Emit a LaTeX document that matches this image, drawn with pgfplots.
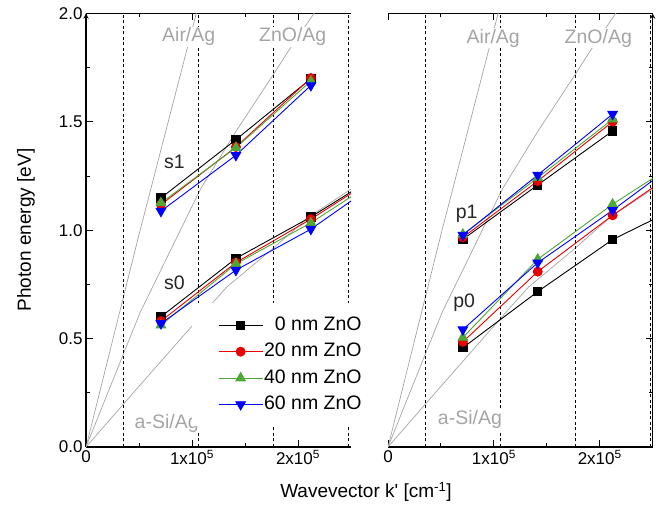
\documentclass[border=0pt]{standalone}
\usepackage{fontspec}
\setmainfont{Liberation Sans}
\usepackage{pgfplots}
\pgfplotsset{compat=1.18}

\definecolor{cgray}{RGB}{165,165,165}
\definecolor{cred}{RGB}{230,0,0}
\definecolor{cgreen}{RGB}{77,168,55}
\definecolor{cblue}{RGB}{0,0,255}

\tikzset{
  glabel/.style={fill=white, text=cgray, inner sep=1pt, font=\fontsize{19.5}{19.5}\selectfont},
  blabel/.style={text=black!85, inner sep=1pt, font=\fontsize{19.5}{19.5}\selectfont},
}

\pgfplotsset{
  panel/.style={
    scale only axis, width=265pt, height=433.5pt,
    xmin=0, xmax=2.5, ymin=0, ymax=2,
    axis x line=box,
    every outer x axis line/.append style={-},
    every outer y axis line/.append style={-},
    axis line style={line width=1.3pt, -},
    tick align=inside,
    xtick={0,1,2}, xticklabels={0, 1x10\textsuperscript{5}, 2x10\textsuperscript{5}},
    minor x tick num=1,
    ytick={0,0.5,...,2}, minor y tick num=1,
    major tick length=7pt, minor tick length=4pt,
    tick style={black, line width=1pt},
    tick label style={font=\fontsize{17}{17}\selectfont},
    /pgf/number format/assume math mode=true,
    yticklabel style={/pgf/number format/fixed, /pgf/number format/fixed zerofill, /pgf/number format/precision=1},
    clip=true,
  },
  gline/.style={cgray, line width=0.7pt, forget plot},
  dline/.style={black, line width=0.6pt, dash pattern=on 3pt off 2.5pt, forget plot},
  lbl/.style={draw=none, forget plot, mark=none},
  sK/.style={black, line width=0.9pt, mark=square*, mark size=4.2pt, mark options={solid, fill=black}},
  sR/.style={cred, line width=0.9pt, mark=*, mark size=4.5pt, mark options={solid, fill=cred}},
  sG/.style={cgreen, line width=0.9pt, mark=triangle*, mark size=5.5pt, mark options={solid, fill=cgreen}},
  sB/.style={cblue, line width=0.9pt, mark=triangle*, mark size=5.5pt, mark options={solid, fill=cblue, rotate=180}},
}

\newcommand{\guides}{%
  \addplot[gline] coordinates {(0,0) (0.5,0.98) (0.95,1.83) (1.04,2.0) (1.1,2.1)};
  \addplot[gline] coordinates {(0,0) (0.51,0.62) (1.08,1.19) (1.42,1.46) (1.77,1.72) (1.9,1.82) (2.15,2.0) (2.3,2.1)};
  \addplot[gline] coordinates {(0,0) (0.5,0.28) (1.12,0.625) (1.33,0.739) (1.75,0.91) (2.1,1.06) (2.5,1.19) (2.6,1.22)};
  \addplot[dline] coordinates {(0.3536,0) (0.3536,2)};
  \addplot[dline] coordinates {(1.0607,0) (1.0607,2)};
  \addplot[dline] coordinates {(1.7678,0) (1.7678,2)};
  \addplot[dline] coordinates {(2.4749,0) (2.4749,2)};
}

\begin{document}
\begin{tikzpicture}
\useasboundingbox (0pt,-61pt) rectangle (656pt,447pt);

\begin{axis}[panel, axis y line=left, tick align=inside,
  at={(86pt,0pt)}, anchor=south west,
  legend style={at={(0.4,0.332)}, anchor=north west, fill=white, draw=none,
    inner xsep=26pt, inner ysep=12pt, row sep=6.4pt,
    font=\fontsize{19.5}{19.5}\selectfont,
    nodes={inner sep=1pt, text height=14pt, text depth=4pt}},
  legend cell align=right,
  legend image code/.code={\draw[mark repeat=2,mark phase=2,#1] plot coordinates {(0pt,0pt) (22pt,0pt) (44pt,0pt)};},
]
\guides
\addplot[lbl] coordinates {(0.969,1.893)} node[glabel] {Air/Ag};
\addplot[lbl] coordinates {(1.95,1.893)} node[glabel] {ZnO/Ag};
\addplot[lbl] coordinates {(0.761,0.11)} node[glabel] {a-Si/Ag};
\addplot[lbl] coordinates {(0.833,1.316)} node[blabel] {s1};
\addplot[lbl] coordinates {(0.833,0.757)} node[blabel] {s0};
% s0
\addplot[sK] coordinates {(0.7071,0.601) (1.4142,0.870) (2.1213,1.061) (2.8284,1.277)};
\addplot[sR] coordinates {(0.7071,0.581) (1.4142,0.851) (2.1213,1.051) (2.8284,1.272)};
\addplot[sG] coordinates {(0.7071,0.562) (1.4142,0.845) (2.1213,1.034) (2.8284,1.259)};
\addplot[sB] coordinates {(0.7071,0.570) (1.4142,0.816) (2.1213,1.005) (2.8284,1.247)};
\legend{0 nm ZnO, 20 nm ZnO, 40 nm ZnO, 60 nm ZnO}
% s1
\addplot[sK, forget plot] coordinates {(0.7071,1.149) (1.4142,1.418) (2.1213,1.699)};
\addplot[sR, forget plot] coordinates {(0.7071,1.118) (1.4142,1.384) (2.1213,1.702)};
\addplot[sG, forget plot] coordinates {(0.7071,1.126) (1.4142,1.381) (2.1213,1.688)};
\addplot[sB, forget plot] coordinates {(0.7071,1.088) (1.4142,1.346) (2.1213,1.668)};
\end{axis}

\begin{axis}[panel, axis y line=right, tick align=inside, yticklabels={},
  at={(388pt,0pt)}, anchor=south west, width=264.7pt,
]
\guides
\addplot[lbl] coordinates {(0.994,1.886)} node[glabel] {Air/Ag};
\addplot[lbl] coordinates {(1.986,1.886)} node[glabel] {ZnO/Ag};
\addplot[lbl] coordinates {(0.774,0.126)} node[glabel] {a-Si/Ag};
\addplot[lbl] coordinates {(0.743,1.078)} node[blabel] {p1};
\addplot[lbl] coordinates {(0.72,0.665)} node[blabel] {p0};
% p0
\addplot[sK] coordinates {(0.7071,0.458) (1.4142,0.717) (2.1213,0.957) (2.8284,1.127)};
\addplot[sR] coordinates {(0.7071,0.485) (1.4142,0.809) (2.1213,1.069) (2.8284,1.307)};
\addplot[sG] coordinates {(0.7071,0.505) (1.4142,0.866) (2.1213,1.120) (2.8284,1.343)};
\addplot[sB] coordinates {(0.7071,0.542) (1.4142,0.850) (2.1213,1.092) (2.8284,1.349)};
% p1
\addplot[sK] coordinates {(0.7071,0.958) (1.4142,1.209) (2.1213,1.458)};
\addplot[sR] coordinates {(0.7071,0.967) (1.4142,1.227) (2.1213,1.501)};
\addplot[sG] coordinates {(0.7071,0.981) (1.4142,1.242) (2.1213,1.512)};
\addplot[sB] coordinates {(0.7071,0.978) (1.4142,1.255) (2.1213,1.536)};
\end{axis}

\node[rotate=90, font=\fontsize{19}{19}\selectfont] at (26pt,217pt) {Photon energy [eV]};
\node[font=\fontsize{19}{19}\selectfont] at (366pt,-45pt) {Wavevector k\textquotesingle{} [cm\textsuperscript{-1}]};
\end{tikzpicture}
\end{document}
